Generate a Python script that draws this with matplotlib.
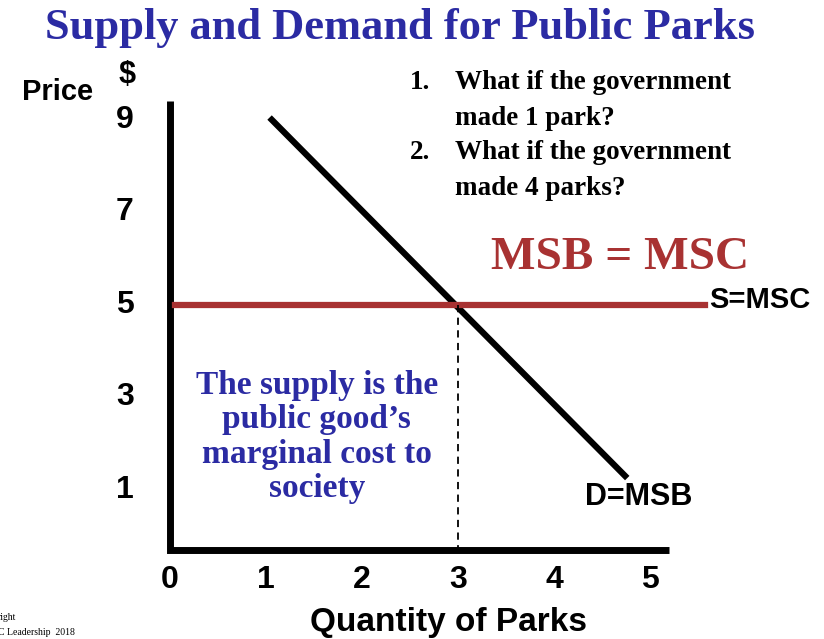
import matplotlib
matplotlib.use("Agg")
import matplotlib.pyplot as plt
import numpy as np

x_ticks = [0, 1, 2, 3, 4, 5]
y_ticks = [9, 7, 5, 3, 1]
demand_q = [1.06, 4.74]
demand_p = [9.0, 1.3]
supply_q = [0.05, 5.57]
supply_p = [5.0, 5.0]
eq_q, eq_p = 3.0, 5.0

fig = plt.figure(figsize=(8.24, 6.39), dpi=100)
ax = fig.add_axes([0, 0, 1, 1])
ax.set_xlim(-170/96, (824-170)/96)
ax.set_ylim((536-639)/46.25, 536/46.25)
ax.axis('off')

navy = '#2b2ba3'
red = '#a83232'
sans = ['Liberation Sans', 'DejaVu Sans']
serif = ['Liberation Serif', 'DejaVu Serif']

ax.plot([0, 0, 5.2], [9.4, -0.3, -0.3], color='black', lw=5, solid_capstyle='butt', solid_joinstyle='miter')
ax.plot(demand_q, demand_p, color='black', lw=4.5)
ax.plot(supply_q, supply_p, color=red, lw=4.5)
ax.plot([eq_q, eq_q], [eq_p, -0.3], color='black', lw=1.3, ls=(0, (4, 3)))

for t in x_ticks:
    ax.text(t, -0.95, str(t), ha='center', va='center', fontsize=23, fontweight='bold', family=sans)
for t in y_ticks:
    ax.text(-0.47, t, str(t), ha='center', va='center', fontsize=23, fontweight='bold', family=sans)

ax.text(2.40, 10.98, 'Supply and Demand for Public Parks', ha='center', va='center',
        fontsize=32, fontweight='bold', family=serif, color=navy)
ax.text(-1.17, 9.6, 'Price', ha='center', va='center', fontsize=21, fontweight='bold', family=sans)
ax.text(-0.45, 9.97, '$', ha='center', va='center', fontsize=22, fontweight='bold', family=sans)

qs = [(410, 82, '1.'), (455, 82, 'What if the government'), (455, 118, 'made 1 park?'),
      (410, 152, '2.'), (455, 152, 'What if the government'), (455, 188, 'made 4 parks?')]
for px, py, s in qs:
    ax.text((px-170)/96, (536-py)/46.25, s, ha='left', va='center', fontsize=19.5,
            fontweight='bold', family=serif)

ax.text(4.69, 6.01, 'MSB = MSC', ha='center', va='center', fontsize=34, fontweight='bold',
        family=serif, color=red)
ax.text(5.62, 5.1, 'S=MSC', ha='left', va='center', fontsize=21, fontweight='bold', family=sans)
ax.text(4.32, 0.84, 'D=MSB', ha='left', va='center', fontsize=22, fontweight='bold', family=sans)
ax.text(1.53, 2.14, "The supply is the\npublic good’s\nmarginal cost to\nsociety", ha='center',
        va='center', fontsize=24, fontweight='bold', family=serif, color=navy, linespacing=1.15)
ax.text(2.9, -1.86, 'Quantity of Parks', ha='center', va='center', fontsize=24,
        fontweight='bold', family=sans)
ax.text(-1.79, -1.77, 'right', ha='left', va='center', fontsize=7, family=serif)
ax.text(-1.79, -2.08, 'C Leadership  2018', ha='left', va='center', fontsize=7, family=serif)

fig.savefig('out.png', dpi=100)
